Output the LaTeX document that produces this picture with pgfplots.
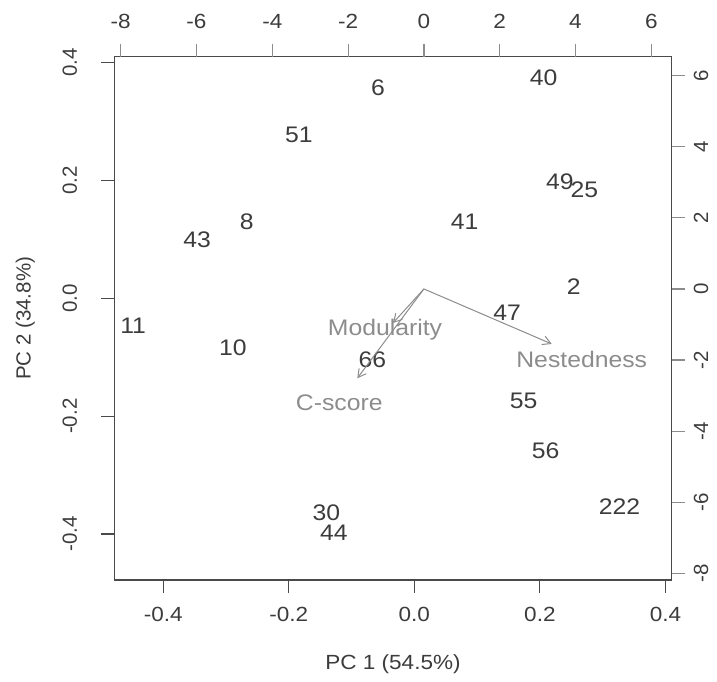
\documentclass[border=0pt]{standalone}
\usepackage{fontspec}
\setmainfont{Liberation Sans}
\newfontfamily\widefont[FakeStretch=1.1]{Liberation Sans}
\usepackage{pgfplots}
\usepackage{pgfplotstable}
\pgfplotsset{compat=1.18}
\usetikzlibrary{arrows.meta}

\definecolor{txt}{HTML}{3C3C3C}
\definecolor{arr}{HTML}{8C8C8C}
\definecolor{frame}{HTML}{4A4A4A}

% site scores on PC1 / PC2
\pgfplotstableread{
lab x y
6 -0.058 0.357
51 -0.184 0.277
8 -0.267 0.130
43 -0.346 0.099
11 -0.448 -0.047
40 0.206 0.375
49 0.232 0.198
25 0.271 0.184
41 0.080 0.130
2 0.254 0.020
47 0.148 -0.024
10 -0.289 -0.084
66 -0.067 -0.104
30 -0.140 -0.364
44 -0.128 -0.398
55 0.174 -0.174
56 0.209 -0.258
222 0.327 -0.354
}\scores

% loading labels (secondary scale)
\pgfplotstableread{
lab x y
Modularity -1.026 -1.154
Nestedness 4.164 -1.978
C-score -2.232 -3.216
}\loadlabels

\newcommand\axfont{\widefont\fontsize{20.5}{20.5}\selectfont}
\newcommand\axrotfont{\fontsize{20.5}{20.5}\selectfont}
\newcommand\labfont{\widefont\fontsize{22.5}{22.5}\selectfont}

\begin{document}
\begin{tikzpicture}
\begin{axis}[
  scale only axis, width=557.4pt, height=523.3pt,
  xmin=-0.478, xmax=0.41, ymin=-0.478, ymax=0.41,
  axis line style={frame, line width=1.4pt},
  xtick={-0.4,-0.2,0,0.2,0.4}, xticklabels={-0.4,-0.2,0.0,0.2,0.4},
  ytick={-0.4,-0.2,0,0.2,0.4}, yticklabels={-0.4,-0.2,0.0,0.2,0.4},
  xtick pos=bottom, ytick pos=left,
  tick align=outside, major tick length=13pt,
  tick style={frame, line width=1.2pt},
  xticklabel style={font=\axfont, text=txt, anchor=north, inner sep=0pt},
  xticklabel shift=13.6pt,
  yticklabel style={font=\axrotfont, text=txt, rotate=90, anchor=south, inner sep=0pt},
  yticklabel shift=24pt,
  xlabel={PC 1 (54.5\%)}, ylabel={PC 2 (34.8\%)},
  xlabel style={at={(axis description cs:0.5,-0.1605)}, anchor=center, font=\axfont, text=txt, inner sep=0pt},
  ylabel style={at={(axis description cs:-0.1597,0.5)}, anchor=center, font=\axrotfont, text=txt, inner sep=0pt},
  clip=false,
]
\draw[frame, line width=1.4pt] (rel axis cs:0,0) rectangle (rel axis cs:1,1);
\addplot[only marks, mark=none, nodes near coords, point meta=explicit symbolic,
  nodes near coords style={anchor=center, font=\labfont, text=txt, inner sep=0pt}]
  table[x=x, y=y, meta=lab]{\scores};
\end{axis}

\begin{axis}[
  scale only axis, width=557.4pt, height=523.3pt,
  xmin=-8.169, xmax=6.538, ymin=-8.189, ymax=6.535,
  axis x line*=top, axis y line*=right,
  axis line style={draw=none},
  xtick={-8,-6,-4,-2,0,2,4,6}, xticklabels={-8,-6,-4,-2,0,2,4,6},
  ytick={-8,-6,-4,-2,0,2,4,6}, yticklabels={-8,-6,-4,-2,0,2,4,6},
  tick align=outside, major tick length=13pt,
  tick style={arr, line width=1.2pt},
  xticklabel style={font=\axfont, text=txt, anchor=south, inner sep=0pt},
  xticklabel shift=14.5pt,
  yticklabel style={font=\axrotfont, text=txt, rotate=90, anchor=north, inner sep=0pt},
  yticklabel shift=9pt,
  clip=false,
]
\addplot[arr, line width=1pt, -{Straight Barb[length=8pt, width=9pt]}] coordinates {(0,0) (-0.815,-0.957)};
\addplot[arr, line width=1pt, -{Straight Barb[length=8pt, width=9pt]}] coordinates {(0,0) (-1.757,-2.513)};
\addplot[arr, line width=1pt, -{Straight Barb[length=8pt, width=9pt]}] coordinates {(0,0) (3.372,-1.548)};
\addplot[only marks, mark=none, nodes near coords, point meta=explicit symbolic,
  nodes near coords style={anchor=center, font=\labfont, text=arr, inner sep=0pt}]
  table[x=x, y=y, meta=lab]{\loadlabels};
\end{axis}
\pgfresetboundingbox
\path[use as bounding box] (-114.3pt,-102pt) rectangle (602.7pt,580pt);
\end{tikzpicture}
\end{document}
